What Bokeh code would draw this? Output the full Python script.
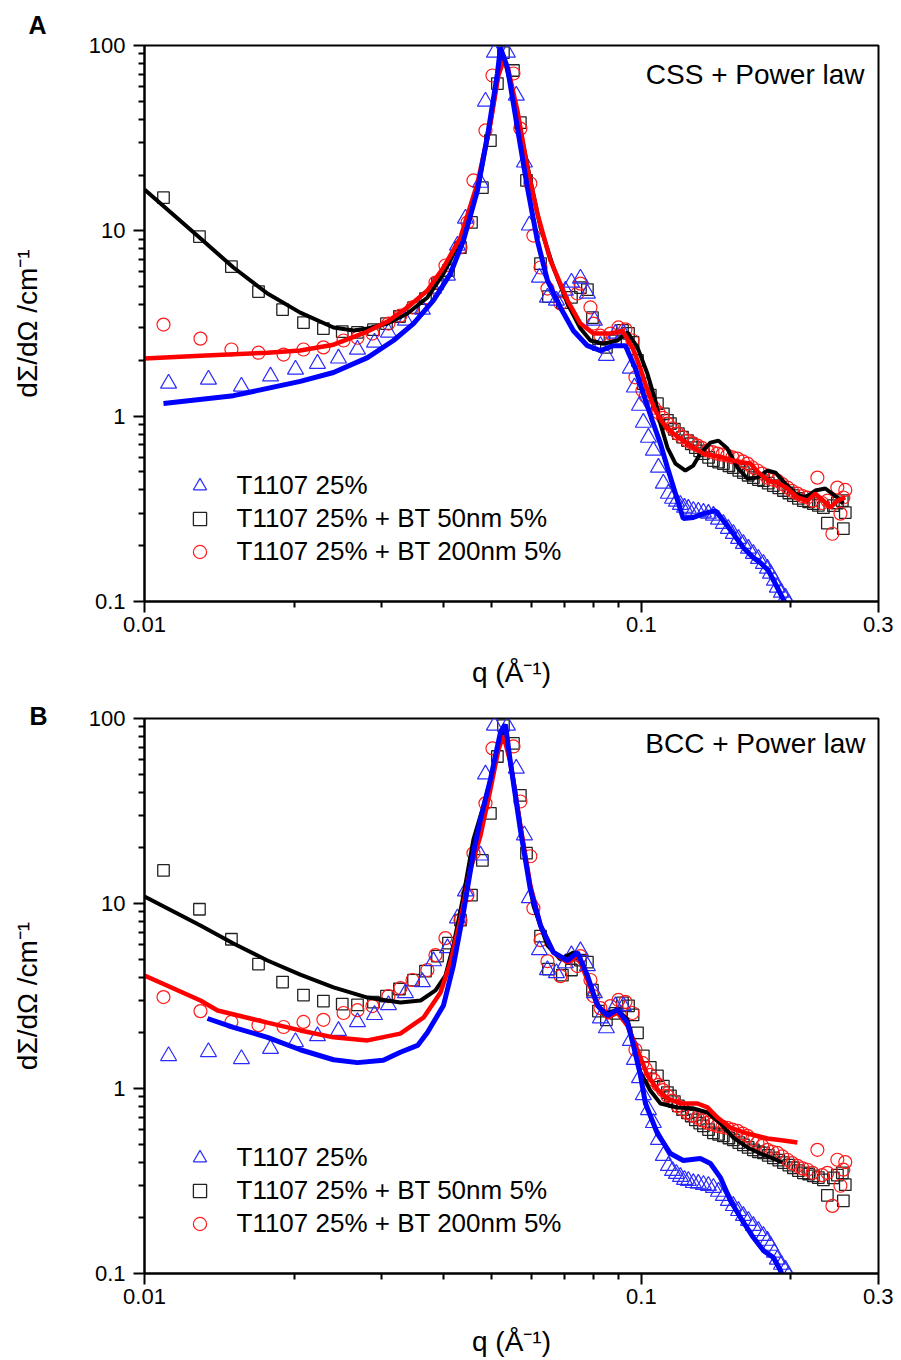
import math
from bokeh.plotting import figure
from bokeh.layouts import column
from bokeh.models import (Range1d, FixedTicker, CustomJSTickFormatter, Label,
                          Legend, LegendItem, Title)
from bokeh.embed import file_html
from bokeh.resources import INLINE

FONT = "Liberation Sans"

# ---------------- measured data (shared by both panels) ----------------
tri_q = [0.01118, 0.01345, 0.01567, 0.01793, 0.02013, 0.02229, 0.02457, 0.02683, 0.02903,
         0.03097, 0.03351, 0.03625, 0.03815, 0.04071, 0.04264, 0.04425, 0.04744, 0.04855,
         0.0506, 0.05375, 0.0560, 0.05815, 0.0595, 0.06234, 0.0647, 0.06745, 0.07031,
         0.07231, 0.07539, 0.07786, 0.08043, 0.0827, 0.08502, 0.08865, 0.0920, 0.0950,
         0.0968, 0.0991, 0.1009, 0.1033, 0.1057, 0.1082, 0.1107, 0.1133, 0.1155, 0.1176,
         0.1198, 0.1221, 0.1243, 0.1272, 0.1302, 0.1333, 0.1364, 0.1396, 0.1429, 0.1462,
         0.1496, 0.1531, 0.1568, 0.1604, 0.1642, 0.1680, 0.1720, 0.1760, 0.1793, 0.1818,
         0.1852, 0.1877, 0.1913, 0.1949, 0.1976]
tri_I = [1.50, 1.576, 1.445, 1.64, 1.785, 1.92, 2.05, 2.29, 2.50,
         2.83, 3.28, 3.76, 4.88, 5.74, 8.33, 11.65, 18.2, 49.9,
         91.6, 91.6, 53.7, 23.4, 10.7, 5.60, 4.37, 4.21, 4.76,
         5.26, 5.53, 4.59, 3.28, 2.40, 2.12, 2.79, 2.79, 1.81,
         1.43, 1.14, 0.923, 0.766, 0.652, 0.528, 0.433, 0.382, 0.359, 0.346,
         0.333, 0.321, 0.317, 0.309, 0.306, 0.302, 0.298, 0.291, 0.277, 0.263,
         0.247, 0.232, 0.218, 0.205, 0.193, 0.181, 0.170, 0.160, 0.1505, 0.1415,
         0.1297, 0.119, 0.1117, 0.105, 0.0974]

sq_q = [0.01092, 0.0129, 0.01496, 0.01696, 0.01896, 0.02089, 0.02291, 0.0250, 0.02683,
        0.02889, 0.03069, 0.03259, 0.03478, 0.03677, 0.03887, 0.0409, 0.04324, 0.0455,
        0.04786, 0.04967, 0.05131, 0.05277, 0.05527, 0.05707, 0.05871, 0.06266, 0.065,
        0.06934, 0.07231, 0.07539, 0.07786, 0.0797, 0.08194, 0.08502, 0.0887, 0.0916,
        0.0942, 0.0962, 0.0982, 0.1009, 0.1042, 0.1077, 0.1107, 0.1128, 0.1144, 0.1165,
        0.1187, 0.121, 0.1238, 0.126, 0.1284, 0.131, 0.1333, 0.1365, 0.1396, 0.143,
        0.1462, 0.150, 0.1531, 0.157, 0.1604, 0.164, 0.1680, 0.172, 0.1760, 0.180,
        0.1843, 0.189, 0.1931, 0.198, 0.2022, 0.207, 0.2118, 0.217, 0.2219, 0.227,
        0.2324, 0.2367, 0.2434, 0.248, 0.2537, 0.2549, 0.2572]
sq_I = [15.1, 9.31, 6.41, 4.70, 3.76, 3.20, 2.97, 2.86, 2.83,
        2.93, 3.16, 3.45, 3.85, 4.31, 5.19, 6.11, 8.13, 11.1,
        17.1, 30.7, 62.3, 91.6, 73.3, 38.4, 18.7, 6.66, 4.42,
        4.10, 4.37, 4.94, 4.82, 3.40, 2.62, 2.35, 2.55, 2.9,
        2.8, 2.5, 2.0, 1.5, 1.3, 1.17, 1.03, 0.95, 0.912, 0.85,
        0.805, 0.77, 0.738, 0.71, 0.677, 0.65, 0.628, 0.60, 0.576, 0.565,
        0.555, 0.54, 0.528, 0.51, 0.496, 0.48, 0.466, 0.455, 0.449, 0.435,
        0.422, 0.41, 0.397, 0.385, 0.373, 0.36, 0.350, 0.345, 0.337, 0.33,
        0.321, 0.2645, 0.329, 0.34, 0.350, 0.247, 0.302]

ci_q = [0.01092, 0.01296, 0.01496, 0.01696, 0.01905, 0.02089, 0.02291, 0.02515, 0.02683,
        0.02875, 0.03097, 0.03274, 0.03462, 0.0371, 0.03851, 0.04033, 0.04324, 0.04467,
        0.04592, 0.04855, 0.05015, 0.05527, 0.05707, 0.05978, 0.06062, 0.06266, 0.0647,
        0.06871, 0.07435, 0.07539, 0.07897, 0.08009, 0.0827, 0.08662, 0.08989, 0.09286,
        0.09592, 0.09726, 0.1005, 0.102, 0.1042, 0.106, 0.1082, 0.1105, 0.1128, 0.1155,
        0.1182, 0.121, 0.1238, 0.1267, 0.1297, 0.1327, 0.1358, 0.139, 0.1422, 0.1455,
        0.1489, 0.1525, 0.1561, 0.160, 0.1634, 0.167, 0.1712, 0.175, 0.1793, 0.1835,
        0.1877, 0.192, 0.1967, 0.201, 0.2060, 0.211, 0.2158, 0.221, 0.2260, 0.231,
        0.2367, 0.2423, 0.2479, 0.2515, 0.2549, 0.2572]
ci_I = [3.12, 2.62, 2.29, 2.20, 2.15, 2.29, 2.35, 2.56, 2.65,
        2.79, 3.16, 3.49, 3.86, 4.37, 5.26, 6.50, 8.13, 11.1,
        18.7, 34.8, 68.9, 70.6, 35.6, 18.0, 9.43, 6.34, 4.88,
        4.05, 4.59, 5.19, 3.86, 3.16, 2.72, 2.79, 3.01, 2.94,
        2.56, 1.62, 1.375, 1.28, 1.184, 1.11, 1.046, 0.98, 0.912, 0.86,
        0.805, 0.77, 0.738, 0.715, 0.694, 0.672, 0.652, 0.64, 0.628, 0.62,
        0.613, 0.60, 0.590, 0.57, 0.555, 0.53, 0.509, 0.49, 0.466, 0.455,
        0.449, 0.43, 0.412, 0.395, 0.382, 0.37, 0.3637, 0.35, 0.466, 0.34,
        0.350, 0.232, 0.412, 0.298, 0.364, 0.40]

# ---------------- fits, panel A (CSS + Power law) ----------------
a_black_q = [0.0100, 0.0129, 0.0151, 0.01768, 0.02058, 0.02401, 0.02634, 0.0281, 0.03083,
             0.03382, 0.0371, 0.03996, 0.04324, 0.04677, 0.04967, 0.05203, 0.05277, 0.0545,
             0.05707, 0.05978, 0.06266, 0.06652, 0.07098, 0.07539, 0.07897, 0.08386, 0.08948,
             0.09373, 0.09817, 0.1028, 0.1067, 0.1092, 0.1128, 0.1171, 0.1226, 0.1272, 0.1314,
             0.1377, 0.1429, 0.1489, 0.1561, 0.1634, 0.1712, 0.1793, 0.1861, 0.1949, 0.2041,
             0.2138, 0.2239, 0.2345, 0.2479, 0.2549]
a_black_I = [16.7, 9.20, 6.34, 4.59, 3.62, 3.01, 2.90, 2.97, 3.16,
             3.58, 4.37, 5.88, 8.86, 16.5, 37.9, 83.0, 88.3, 62.3,
             34.8, 18.7, 10.4, 6.34, 4.05, 2.97, 2.56, 2.46, 2.56,
             2.83, 2.35, 1.70, 1.21, 0.912, 0.677, 0.555, 0.509, 0.541, 0.628,
             0.720, 0.738, 0.669, 0.528, 0.461, 0.466, 0.509, 0.496, 0.433, 0.382,
             0.364, 0.397, 0.407, 0.364, 0.337]

a_red_q = [0.0100, 0.01296, 0.01768, 0.02058, 0.02401, 0.0281, 0.03083, 0.03382, 0.0371,
           0.03996, 0.04324, 0.04677, 0.04967, 0.05156, 0.05277, 0.054, 0.05628, 0.05896,
           0.06175, 0.0656, 0.07098, 0.07539, 0.08009, 0.08662, 0.09158, 0.09592, 0.09954,
           0.1028, 0.1067, 0.1107, 0.116, 0.1214, 0.1272, 0.1333, 0.1396, 0.1462, 0.1531,
           0.1597, 0.1657, 0.172, 0.1801, 0.1877, 0.1967, 0.206, 0.2158, 0.2239, 0.2324,
           0.24, 0.2479, 0.2572]
a_red_I = [2.05, 2.12, 2.20, 2.26, 2.43, 2.86, 3.24, 3.86, 4.76,
           6.34, 9.20, 18.0, 37.9, 68.9, 83.0, 73.3, 44.6, 21.9,
           12.4, 6.92, 4.21, 3.16, 2.79, 2.79, 2.89, 2.35, 1.81,
           1.375, 1.072, 0.912, 0.805, 0.738, 0.677, 0.628, 0.613, 0.598, 0.576,
           0.562, 0.555, 0.496, 0.449, 0.438, 0.407, 0.364, 0.350, 0.382, 0.350,
           0.321, 0.350, 0.364]

a_blue_q = [0.01092, 0.0151, 0.02058, 0.02401, 0.0281, 0.0317, 0.03478, 0.03815, 0.04127,
            0.04383, 0.04677, 0.04921, 0.05131, 0.05203, 0.05375, 0.05628, 0.05896, 0.06175,
            0.0647, 0.06871, 0.07297, 0.07786, 0.0827, 0.08784, 0.09286, 0.09726, 0.1009,
            0.1052, 0.1092, 0.1128, 0.1171, 0.1214, 0.1272, 0.1333, 0.1409, 0.1462, 0.1531,
            0.1604, 0.168, 0.1736, 0.1801, 0.1877, 0.1922, 0.1958]
a_blue_I = [1.17, 1.29, 1.54, 1.72, 2.07, 2.56, 3.16, 4.21, 5.88,
            8.86, 16.5, 34.8, 70.6, 97.5, 76.1, 36.1, 17.1, 8.86,
            5.40, 3.86, 2.89, 2.40, 2.26, 2.40, 2.40, 1.81, 1.32,
            0.945, 0.711, 0.528, 0.382, 0.280, 0.284, 0.298, 0.309, 0.273, 0.232,
            0.195, 0.1725, 0.162, 0.1468, 0.119, 0.105, 0.095]

# ---------------- fits, panel B (BCC + Power law) ----------------
b_black_q = [0.0100, 0.01296, 0.0151, 0.01768, 0.02058, 0.02401, 0.0281, 0.03272, 0.03595,
             0.03851, 0.04033, 0.04184, 0.04383, 0.04592, 0.04786, 0.05015, 0.05203, 0.05301,
             0.05527, 0.05788, 0.06062, 0.0647, 0.06871, 0.07297, 0.07646, 0.08009, 0.08386,
             0.08948, 0.09373, 0.09637, 0.09954, 0.1042, 0.1092, 0.1182, 0.1272, 0.1358,
             0.1442, 0.1531, 0.1634, 0.1736, 0.1843, 0.1922]
b_black_I = [10.9, 7.60, 6.08, 4.92, 4.13, 3.52, 3.10, 2.92, 2.99,
             3.39, 4.08, 5.93, 11.0, 22.2, 32.2, 51.1, 77.0, 87.2,
             46.8, 20.6, 9.75, 5.93, 4.98, 5.44, 4.62, 3.18, 2.51,
             2.67, 2.36, 1.77, 1.22, 0.976, 0.830, 0.790, 0.780, 0.742,
             0.647, 0.543, 0.480, 0.445, 0.418, 0.398]

b_red_q = [0.0100, 0.01296, 0.01403, 0.01768, 0.02058, 0.02401, 0.0281, 0.03272, 0.03645,
           0.03942, 0.04127, 0.04324, 0.04527, 0.04744, 0.04967, 0.05156, 0.05277, 0.0545,
           0.05707, 0.05978, 0.06266, 0.06652, 0.07098, 0.07435, 0.07786, 0.08157, 0.08544,
           0.08948, 0.09373, 0.09817, 0.1028, 0.1077, 0.1128, 0.1198, 0.1297, 0.1358,
           0.1422, 0.151, 0.1634, 0.1793, 0.1931, 0.206]
b_red_I = [4.08, 2.99, 2.64, 2.27, 2.06, 1.89, 1.82, 1.98, 2.42,
           3.30, 4.80, 8.19, 15.3, 23.3, 41.3, 68.0, 80.9, 57.8,
           26.4, 12.5, 7.60, 5.44, 4.80, 5.24, 3.88, 2.81, 2.42,
           2.57, 2.19, 1.62, 1.18, 0.988, 0.883, 0.830, 0.830, 0.790,
           0.697, 0.615, 0.571, 0.537, 0.523, 0.510]

b_blue_q = [0.01339, 0.0151, 0.01768, 0.02058, 0.02401, 0.02683, 0.03024, 0.03272, 0.03545,
            0.0371, 0.03996, 0.04184, 0.04383, 0.04592, 0.04744, 0.04967, 0.05203, 0.05326,
            0.0545, 0.05707, 0.05978, 0.06266, 0.06652, 0.07098, 0.07435, 0.07786, 0.08157,
            0.08544, 0.08948, 0.09373, 0.09637, 0.09954, 0.1019, 0.1077, 0.1144, 0.1214,
            0.1314, 0.1377, 0.1442, 0.151, 0.1597, 0.168, 0.176, 0.1843, 0.1905, 0.194]
b_blue_I = [2.39, 2.14, 1.89, 1.62, 1.43, 1.38, 1.42, 1.57, 1.71,
            2.01, 2.81, 4.62, 8.94, 18.9, 28.5, 46.8, 84.0, 92.8,
            57.8, 25.1, 11.9, 7.60, 5.44, 4.92, 5.44, 4.08, 2.81,
            2.48, 2.67, 2.27, 1.71, 1.18, 0.830, 0.571, 0.445, 0.408,
            0.418, 0.393, 0.330, 0.248, 0.193, 0.1565, 0.133, 0.122, 0.1038, 0.0917]

# ---------------- axes / labels ----------------
x_major = [0.01, 0.1, 0.3]
x_minor = [0.02, 0.03, 0.04, 0.05, 0.06, 0.07, 0.08, 0.09, 0.2]
y_major = [0.1, 1, 10, 100]
y_minor = [0.2, 0.3, 0.4, 0.5, 0.6, 0.7, 0.8, 0.9,
           2, 3, 4, 5, 6, 7, 8, 9, 20, 30, 40, 50, 60, 70, 80, 90]
series_labels = ["T1107 25%", "T1107 25% + BT 50nm 5%", "T1107 25% + BT 200nm 5%"]
x_label = "q (Å⁻¹)"
y_label = "dΣ/dΩ /cm⁻¹"


def panel(height, btop, bbot, fits, title, letter, letter_offset, letter_standoff,
          title_pos, xlab_standoff):
    p = figure(width=893, height=height, x_axis_type="log", y_axis_type="log",
               x_range=Range1d(0.01, 0.3), y_range=Range1d(0.1, 100),
               output_backend="svg", toolbar_location=None,
               min_border_left=144, min_border_right=15,
               min_border_top=btop, min_border_bottom=bbot)
    p.grid.visible = False
    p.outline_line_color = "black"
    p.outline_line_width = 2
    p.background_fill_color = "white"
    p.border_fill_color = "white"
    for ax in (p.xaxis[0], p.yaxis[0]):
        ax.axis_line_width = 2
        ax.axis_line_color = "black"
        ax.major_tick_line_width = 2
        ax.minor_tick_line_width = 2
        ax.major_tick_line_color = "black"
        ax.minor_tick_line_color = "black"
        ax.major_tick_in = 0
        ax.major_tick_out = 11
        ax.minor_tick_in = 0
        ax.minor_tick_out = 6
        ax.major_label_text_font = FONT
        ax.major_label_text_font_size = "22px"
        ax.major_label_text_color = "black"
        ax.axis_label_text_font = FONT
        ax.axis_label_text_font_size = "28px"
        ax.axis_label_text_font_style = "normal"
        ax.axis_label_text_color = "black"
        ax.formatter = CustomJSTickFormatter(code="return String(tick);")
    p.xaxis[0].ticker = FixedTicker(ticks=x_major, minor_ticks=x_minor)
    p.yaxis[0].ticker = FixedTicker(ticks=y_major, minor_ticks=y_minor)
    p.xaxis[0].major_label_standoff = 4
    p.yaxis[0].major_label_standoff = 8
    p.xaxis[0].axis_label = x_label
    p.yaxis[0].axis_label = y_label
    p.xaxis[0].axis_label_standoff = xlab_standoff
    p.yaxis[0].axis_label_standoff = 43

    r_sq = p.scatter(sq_q, sq_I, marker="square", size=11.5, line_color="#222222",
                     fill_color=None, line_width=1.3)
    r_ci = p.scatter(ci_q, ci_I, marker="circle", size=13, line_color="#ff1a1a",
                     fill_color=None, line_width=1.2)
    r_tr = p.scatter(tri_q, tri_I, marker="triangle", size=16, line_color="#2b2bff",
                     fill_color=None, line_width=1.2)

    (kq, kI), (rq, rI), (bq, bI) = fits
    p.line(kq, kI, line_color="black", line_width=4)
    p.line(rq, rI, line_color="#ff0000", line_width=4.5)
    p.line(bq, bI, line_color="#0000ff", line_width=5)

    legend = Legend(items=[LegendItem(label=series_labels[0], renderers=[r_tr]),
                           LegendItem(label=series_labels[1], renderers=[r_sq]),
                           LegendItem(label=series_labels[2], renderers=[r_ci])],
                    location=(38.5, 33.5), glyph_width=33, glyph_height=33,
                    label_height=33, spacing=0, padding=0, margin=0, label_standoff=21,
                    label_text_font=FONT, label_text_font_size="26px",
                    label_text_color="black", border_line_color=None,
                    background_fill_alpha=0)
    p.add_layout(legend)

    # model name inside the frame (frame-relative screen units)
    p.add_layout(Label(x=title_pos[0], y=title_pos[1], x_units="screen", y_units="screen",
                       text=title, text_font=FONT, text_font_size="28px",
                       text_color="black", text_align="right"))
    # panel letter, top-left
    p.add_layout(Title(text=letter, align="left", offset=letter_offset,
                       standoff=letter_standoff, text_font=FONT, text_font_size="25px",
                       text_font_style="bold", text_color="black"), "above")
    return p


pA = panel(690, 45, 89,
           ((a_black_q, a_black_I), (a_red_q, a_red_I), (a_blue_q, a_blue_I)),
           "CSS + Power law", "A", -116, 14, (720, 512), 22)
pB = panel(669, 28, 86,
           ((b_black_q, b_black_I), (b_red_q, b_red_I), (b_blue_q, b_blue_I)),
           "BCC + Power law", "B", -115, -22, (721, 515), 19)

layout = column(pA, pB, spacing=0)
open("out.html", "w").write(file_html(layout, INLINE))
